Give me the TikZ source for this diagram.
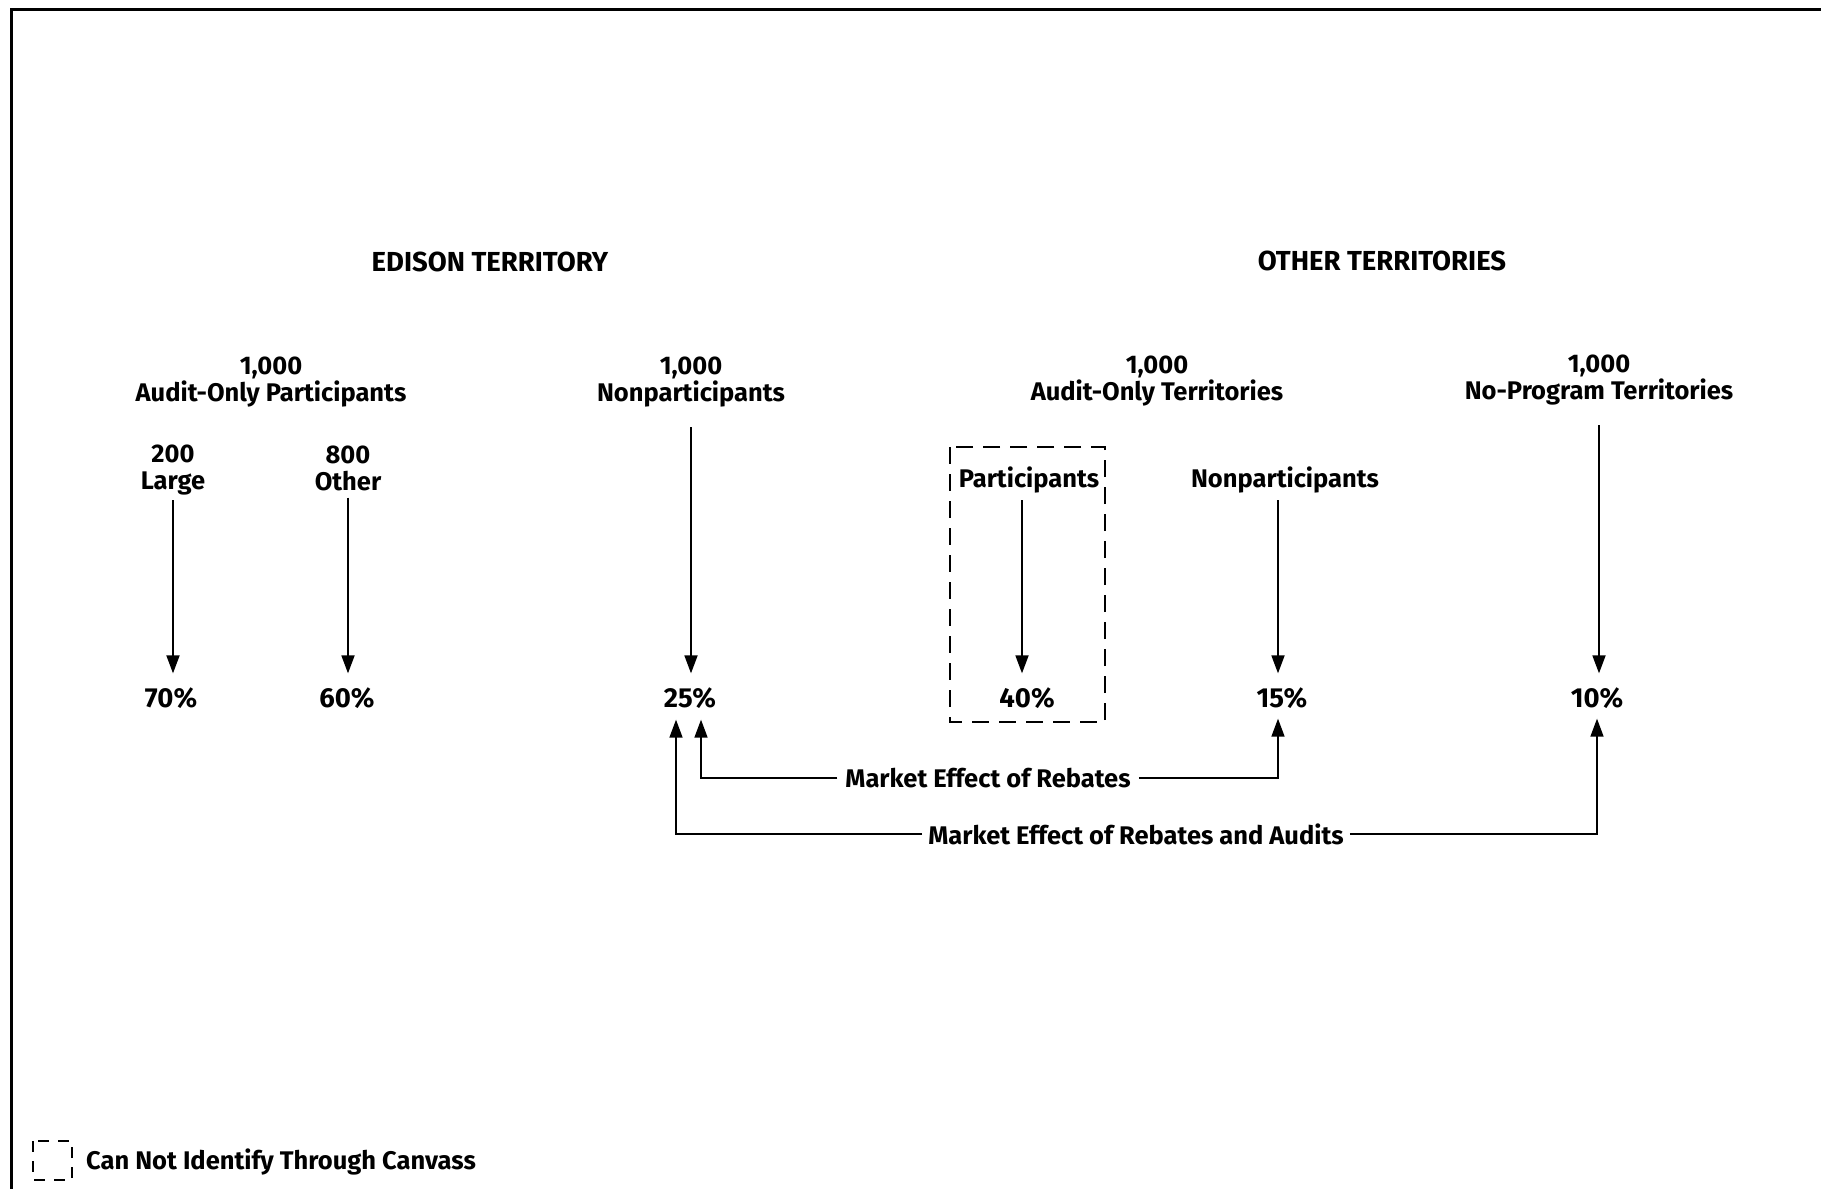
\documentclass[tikz,border=0pt]{standalone}
\usepackage{fontspec}
\setmainfont{Fira Sans}
\usetikzlibrary{arrows.meta}
\begin{document}
\begin{tikzpicture}[x=1pt,y=-1pt,
  lbl/.style={font=\fontsize{25.5}{27}\selectfont\bfseries, align=center, inner sep=0pt},
  head/.style={lbl, font=\fontsize{27.5}{30}\selectfont\bfseries},
  pct/.style={lbl, font=\fontsize{27.5}{30}\selectfont\bfseries, inner sep=0pt},
  arr/.style={line width=1.8pt, -{Triangle[length=18pt,width=13pt]}},
  conn/.style={line width=1.6pt, -{Triangle[length=18pt,width=13pt]}},
  dbox/.style={line width=1.6pt, dash pattern=on 17pt off 10pt},
  frame/.style={line width=3pt}
]
\useasboundingbox (0,0) rectangle (1821,1189);
\fill[white] (0,0) rectangle (1821,1189);
\draw[frame] (11,1189) -- (11,9) -- (1821,9);

% headings
\node[head] (ed) at (490,262) {EDISON TERRITORY};
\node[head] (ot) at (1382,261) {OTHER TERRITORIES};

% top-level groups
\node[lbl] (aop) at (271,382) {1,000\\Audit-Only Participants};
\node[lbl] (np) at (691,382) {1,000\\Nonparticipants};
\node[lbl] (aot) at (1157,381) {1,000\\Audit-Only Territories};
\node[lbl] (npt) at (1599,380) {1,000\\No-Program Territories};

% sub groups
\node[lbl] (lg) at (173,470) {200\\Large};
\node[lbl] (oth) at (348,468) {800\\Other};
\node[lbl] (part) at (1029,480) {Participants};
\node[lbl] (nonp) at (1285,480) {Nonparticipants};

% percentages
\node[pct] (p70) at (171,698) {70\%};
\node[pct] (p60) at (347,698) {60\%};
\node[pct] (p25) at (690,698) {25\%};
\node[pct] (p40) at (1027,698) {40\%};
\node[pct] (p15) at (1282,698) {15\%};
\node[pct] (p10) at (1597,698) {10\%};

% dashed box
\draw[dbox] (950,447) rectangle (1105,722);

% vertical arrows
\draw[arr, shorten <=5pt, shorten >=14pt] (lg.south) -- (lg.south |- p70.north);
\draw[arr, shorten <=7pt, shorten >=14pt] (oth.south) -- (oth.south |- p60.north);
\draw[arr, shorten <=20pt, shorten >=14pt] (np.south) -- (np.south |- p25.north);
\draw[arr, shorten <=7pt, shorten >=14pt] ([xshift=-7pt]part.south) -- ([xshift=-7pt]part.south |- p40.north);
\draw[arr, shorten <=7pt, shorten >=14pt] ([xshift=-7pt]nonp.south) -- ([xshift=-7pt]nonp.south |- p15.north);
\draw[arr, shorten <=20pt, shorten >=14pt] (npt.south) -- (npt.south |- p10.north);

% market effect connectors
\node[lbl, inner xsep=8pt] (reb) at (988,778) {Market Effect of Rebates};
\node[lbl, inner xsep=6pt] (rba) at (1136,834) {Market Effect of Rebates and Audits};
\draw[conn, shorten >=11pt] (reb.west) -| ([xshift=11pt]p25.south);
\draw[conn, shorten >=10pt] (reb.east) -| ([xshift=-4pt]p15.south);
\draw[conn, shorten >=11pt] (rba.west) -| ([xshift=-14pt]p25.south);
\draw[conn, shorten >=10pt] (rba.east) -| (p10.south);

% legend
\draw[line width=1.4pt, dash pattern=on 11pt off 9pt] (33,1141) rectangle (72,1180);
\node[lbl, anchor=west] (leg) at (86,1162) {Can Not Identify Through Canvass};
\end{tikzpicture}
\end{document}
